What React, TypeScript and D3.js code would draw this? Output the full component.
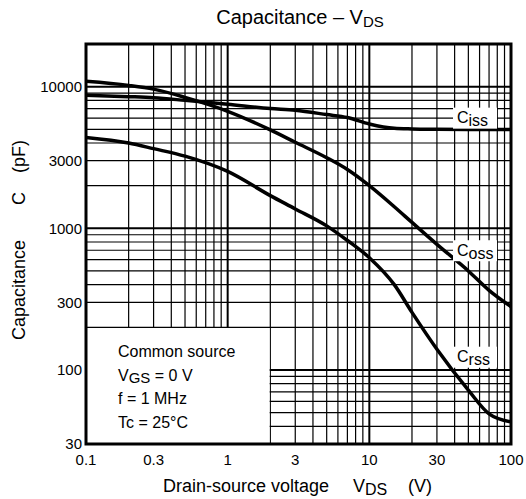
import React from 'react';
import * as d3 from 'd3';

// drain-source voltage (V) sample points shared by all curves
const vdsPoints = [0.1, 0.2, 0.3, 0.5, 1, 2, 3, 5, 7, 10, 15, 20, 30, 50, 70, 100];
// capacitances in pF
const cissValues = [8700, 8500, 8350, 8000, 7500, 7000, 6800, 6350, 6050, 5450, 5080, 5030, 5000, 4980, 4980, 4980];
const cossValues = [10900, 10200, 9600, 8400, 6700, 4950, 4050, 3150, 2600, 2000, 1420, 1100, 770, 500, 365, 280];
const crssValues = [4380, 4000, 3650, 3230, 2520, 1700, 1370, 1040, 820, 620, 400, 255, 140, 72, 49, 43];

const seriesNames = ['iss', 'oss', 'rss'];
const xTickValues = [0.1, 0.3, 1, 3, 10, 30, 100];
const yTickValues = [30, 100, 300, 1000, 3000, 10000];
const conditionLines = ['Common source', 'VGS = 0 V', 'f = 1 MHz', 'Tc = 25°C'];

const W = 526;
const H = 499;
const FONT = '"Liberation Sans", Arial, Helvetica, sans-serif';

const x = d3.scaleLog().domain([0.1, 100]).range([86, 511]);
const y = d3.scaleLog().domain([30, 20000]).range([444, 44]);

// minor grid: 1..9 in every decade
const gridX: number[] = [];
for (let d = 0.1; d < 100; d *= 10) for (let k = 1; k < 10; k++) gridX.push(+(d * k).toPrecision(3));
const gridY: number[] = [];
for (let d = 10; d < 20000; d *= 10) for (let k = 1; k < 10; k++) {
  const v = +(d * k).toPrecision(3);
  if (v >= 30 && v <= 10000) gridY.push(v);
}
const isDecade = (v: number) => Math.abs(Math.log10(v) - Math.round(Math.log10(v))) < 1e-6;

const line = d3.line<[number, number]>()
  .x(d => x(d[0]))
  .y(d => y(d[1]))
  .curve(d3.curveMonotoneX);

const curves = [cissValues, cossValues, crssValues].map(vals =>
  line(vdsPoints.map((v, i) => [v, vals[i]] as [number, number])) as string
);

// where the curve tags sit (value at which label box is centred)
const tagValues = [6040, 700, 124];

const App = () => {
  const [x0, x1] = x.range();
  const [y0, y1] = y.range();
  return (
    <svg width={W} height={H} style={{ position: 'absolute', left: 0, top: 0, background: '#fff' }} fontFamily={FONT}>
      <text x={300} y={24} fontSize={20} textAnchor="middle">
        Capacitance – V<tspan fontSize={15} dy={3}>DS</tspan>
      </text>

      {gridX.map(v => (
        <line key={'gx' + v} x1={x(v)} x2={x(v)} y1={y1} y2={y0} stroke="#000" strokeWidth={isDecade(v) ? 2 : 1.2} />
      ))}
      {gridY.map(v => (
        <line key={'gy' + v} x1={x0} x2={x1} y1={y(v)} y2={y(v)} stroke="#000" strokeWidth={isDecade(v) ? 2 : 1.2} />
      ))}

      {/* conditions box */}
      <rect x={x0} y={y(200) + 0.7} width={x(2) - x0 - 0.7} height={y0 - y(200) - 0.7} fill="#fff" />
      {conditionLines.map((t, i) => (
        <text key={t} x={118} y={357 + i * 23.7} fontSize={16}>
          {t === 'VGS = 0 V' ? (
            <>V<tspan fontSize={15} dy={2.5}>GS</tspan><tspan dy={-2.5}> = 0 V</tspan></>
          ) : t}
        </text>
      ))}

      <g clipPath="url(#plotclip)">
        {curves.map((d, i) => (
          <path key={i} d={d} fill="none" stroke="#000" strokeWidth={3.5} strokeLinejoin="round" />
        ))}
      </g>
      <defs>
        <clipPath id="plotclip">
          <rect x={x0} y={y1} width={x1 - x0} height={y0 - y1} />
        </clipPath>
      </defs>

      {seriesNames.map((s, i) => {
        const cy = y(tagValues[i]);
        return (
          <g key={s}>
            <rect x={453} y={cy - 10} width={44} height={21} fill="#fff" />
            <text x={457} y={cy + 5.5} fontSize={16}>
              C<tspan dy={3}>{s}</tspan>
            </text>
          </g>
        );
      })}

      <rect x={x0} y={y1} width={x1 - x0} height={y0 - y1} fill="none" stroke="#000" strokeWidth={3} />

      {yTickValues.map(v => (
        <text key={'yt' + v} x={82} y={y(v)} dy="0.35em" fontSize={15} textAnchor="end">{v}</text>
      ))}
      {xTickValues.map(v => (
        <text key={'xt' + v} x={x(v)} y={465} fontSize={15} textAnchor="middle">{v}</text>
      ))}

      <text x={163} y={492} fontSize={18}>Drain-source voltage</text>
      <text x={353} y={492} fontSize={18}>V<tspan fontSize={16} dy={3}>DS</tspan></text>
      <text x={408} y={492} fontSize={18}>(V)</text>

      <g fontSize={18}>
        <text transform="translate(25,340) rotate(-90)">Capacitance</text>
        <text transform="translate(25,205) rotate(-90)">C</text>
        <text transform="translate(25,173) rotate(-90)">(pF)</text>
      </g>
    </svg>
  );
};

export default App;
